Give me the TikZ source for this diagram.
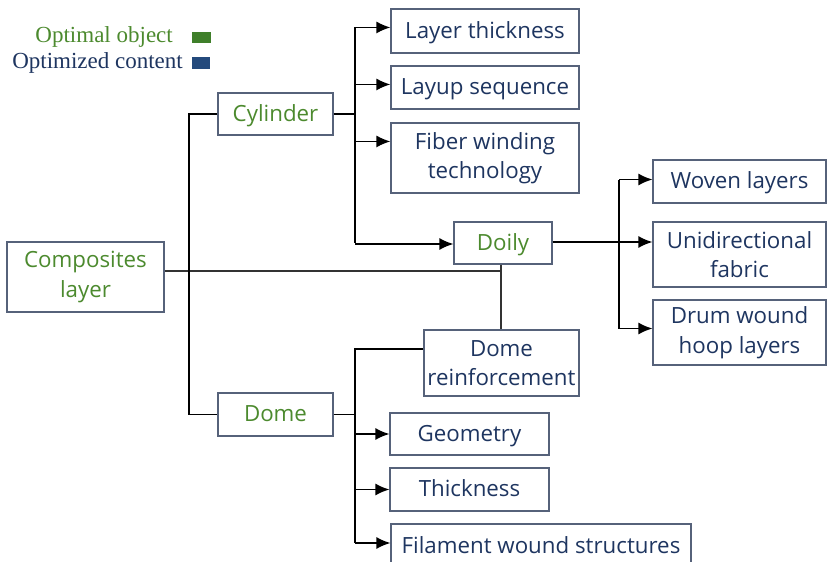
\documentclass[tikz,border=0pt]{standalone}
\usepackage{fontspec}
\setmainfont{Open Sans}
\newfontfamily\legendfont{Liberation Serif}
\usetikzlibrary{arrows.meta,calc}
\definecolor{objgreen}{HTML}{4C8A2E}
\definecolor{contblue}{HTML}{1E3560}
\definecolor{sqgreen}{HTML}{3F7F2A}
\definecolor{sqblue}{HTML}{244A7C}
\definecolor{boxline}{HTML}{56627A}
\tikzset{
  box/.style={draw=boxline, line width=1.1pt, fill=white, inner sep=0pt, align=center,
    font=\fontsize{22.3}{29.5}\selectfont},
  oneline/.style={text height=18pt, text depth=4pt},
  objbox/.style={box, text=objgreen},
  contbox/.style={box, text=contblue},
  conn/.style={draw=black, line width=1.6pt},
  arr/.style={conn, -{Latex[length=14pt,width=12pt]}},
  thinconn/.style={draw=black!80, line width=1.2pt},
  legend/.style={font=\legendfont\fontsize{23}{25}\selectfont, inner sep=0pt, anchor=east}
}
\begin{document}
\begin{tikzpicture}[x=1pt,y=-1pt]
\useasboundingbox (0,0) rectangle (827,562);
\clip (0,0) rectangle (827,562);
% legend
\node[legend, text=objgreen] (lg1) at (173,37) {Optimal object};
\node[legend, text=contblue] (lg2) at (183,63) {Optimized content};
\fill[sqgreen] (192,32) rectangle (211,43);
\fill[sqblue] (192,57) rectangle (210,69);
% coordinates for buses
\coordinate (lbus) at (189,0);
\coordinate (cbus) at (355,0);
\coordinate (dbus) at (619,0);
\coordinate (junc) at (501,271);
% nodes
\node[objbox, minimum width=157pt, minimum height=70pt] (comp) at (85.5,277) {Composites\\layer};
\node[objbox, oneline, minimum width=115pt, minimum height=42pt] (cyl) at (275.5,114) {Cylinder};
\node[objbox, oneline, minimum width=115pt, minimum height=43pt] (dome) at (275.5,414.5) {Dome};
\node[contbox, oneline, minimum width=188pt, minimum height=44pt] (lt) at (485,31) {Layer thickness};
\node[contbox, oneline, minimum width=188pt, minimum height=43pt] (ls) at (485,87.5) {Layup sequence};
\node[contbox, minimum width=188pt, minimum height=70pt] (fw) at (485,158) {Fiber winding\\technology};
\node[objbox, oneline, minimum width=98pt, minimum height=42pt] (doily) at (503,243) {Doily};
\node[contbox, oneline, minimum width=173pt, minimum height=43pt] (wl) at (739.5,181.5) {Woven layers};
\node[contbox, minimum width=173pt, minimum height=65pt] (uf) at (739.5,254.5) {Unidirectional\\fabric};
\node[contbox, minimum width=173pt, minimum height=65pt] (dw) at (739.5,332.5) {Drum wound\\hoop layers};
\node[contbox, minimum width=155pt, minimum height=66pt] (dr) at (501.5,363) {Dome\\reinforcement};
\node[contbox, oneline, minimum width=159pt, minimum height=42pt] (geo) at (469.5,434) {Geometry};
\node[contbox, oneline, minimum width=159pt, minimum height=43pt] (thk) at (469.5,489.5) {Thickness};
\node[contbox, oneline, minimum width=300pt, minimum height=44pt] (fil) at (541,546) {Filament wound structures};
% composites to doily / dome reinforcement
\draw[thinconn] ([yshift=6pt]comp.east) -- (junc);
\draw[thinconn] (doily.south -| junc) -- (dr.north -| junc);
% left bus
\draw[conn] (cyl.west) -- (cyl.west -| lbus) -- (dome.west -| lbus) -- (dome.west);
% cylinder bus
\draw[conn] (cyl.east) -- (cyl.east -| cbus);
\draw[conn] ([yshift=-19pt]lt.north west -| cbus) -- (doily.west -| cbus);
\draw[arr] ([yshift=-19pt]lt.north west -| cbus) -- ([yshift=-19pt]lt.north west);
\draw[arr] ([yshift=-19pt]ls.north west -| cbus) -- ([yshift=-19pt]ls.north west);
\draw[arr] ([yshift=-19pt]fw.north west -| cbus) -- ([yshift=-19pt]fw.north west);
\draw[arr] ([yshift=-1pt]doily.west -| cbus) -- ([yshift=-1pt]doily.west);
% doily bus
\draw[arr] ([yshift=1pt]doily.east) -- ([yshift=1pt]doily.east -| uf.west);
\draw[conn] ([yshift=2pt]wl.west -| dbus) -- ([yshift=4pt]dw.west -| dbus);
\draw[arr] ([yshift=2pt]wl.west -| dbus) -- ([yshift=2pt]wl.west);
\draw[arr] ([yshift=4pt]dw.west -| dbus) -- ([yshift=4pt]dw.west);
% dome bus
\draw[conn] (dome.east) -- (dome.east -| cbus);
\draw[conn] ([yshift=14pt]dr.west) -- ([yshift=14pt]dr.west -| cbus) -- ([yshift=3pt]fil.west -| cbus);
\draw[arr] (geo.west -| cbus) -- (geo.west);
\draw[arr] (thk.west -| cbus) -- (thk.west);
\draw[arr] ([yshift=3pt]fil.west -| cbus) -- ([yshift=3pt]fil.west);
\end{tikzpicture}
\end{document}
